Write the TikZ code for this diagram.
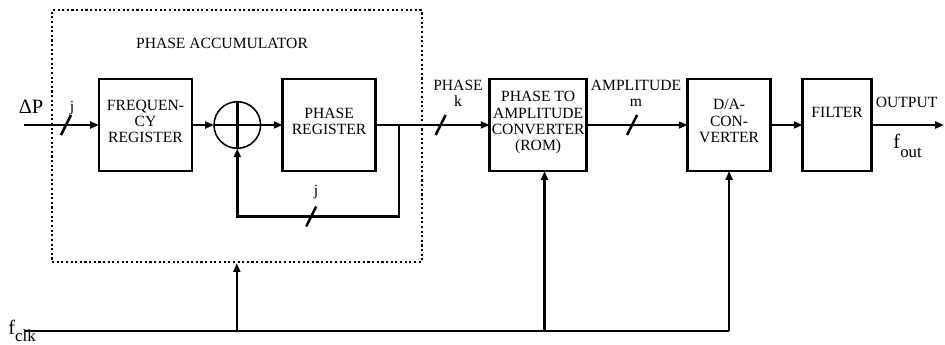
\documentclass[tikz,border=0pt]{standalone}
\usepackage{fontspec}
\setmainfont{Liberation Serif}
\usetikzlibrary{arrows.meta, positioning, calc}
\tikzset{
  blockbox/.style={rectangle, minimum height=2.3cm, text centered, align=center,
    draw, line width=1.8pt, inner sep=1pt, outer sep=0pt, text depth=0.2cm,
    font=\fontsize{11.1}{11.5}\selectfont},
  sumnode/.style={circle, draw, line width=1.1pt, minimum size=1.165cm,
    inner sep=0pt, outer sep=0pt},
  accbox/.style={rectangle, draw, line width=1.5pt, dash pattern=on 1.5pt off 1.8pt},
  wire/.style={line width=1.8pt},
  arr/.style={wire, -{Triangle[length=0.22cm, width=0.17cm]}},
  busmark/.style={line width=1.8pt},
  lbl/.style={font=\fontsize{11.1}{11.5}\selectfont, inner sep=0pt},
  biglbl/.style={font=\fontsize{14.5}{15}\selectfont, inner sep=0pt},
}

\begin{document}
\begin{tikzpicture}
  \useasboundingbox (0,0) rectangle (23.625,-8.6);

  \node (freq)   [blockbox, minimum width=2.325cm] at (3.6375,-3.125) {FREQUEN-\\CY\\REGISTER};
  \node (adder)  [sumnode,  right=0.55cm of freq]  {};
  \node (phase)  [blockbox, minimum width=2.325cm, right=0.55cm of adder] {PHASE\\REGISTER};
  \node (rom)    [blockbox, minimum width=2.425cm, right=2.85cm of phase] {PHASE TO\\AMPLITUDE\\CONVERTER\\(ROM)};
  \node (dac)    [blockbox, minimum width=2.075cm, right=2.525cm of rom] {D/A-\\CON-\\VERTER};
  \node (filter) [blockbox, minimum width=1.725cm, right=0.8cm of dac, text depth=0.65cm] {FILTER};
  \node (acc)    [accbox, minimum width=9.24cm, minimum height=6.3cm] at (5.92,-3.4) {};

  \coordinate (in)  at (0.6,-3.125);
  \coordinate (out) at (23.6,-3.125);
  \coordinate (tap) at (9.975,-3.125);
  \coordinate (fb)  at (9.975,-5.4125);
  \coordinate (clk) at (0.625,-8.275);

  % signal path
  \draw[arr]  (in) -- (freq);
  \draw[arr]  (freq) -- (adder);
  \draw[wire] (adder.west) -- (adder.east);
  \draw[wire] (adder.north) -- (adder.south);
  \draw[arr]  (adder) -- (phase);
  \draw[arr]  (phase) -- (rom);
  \draw[arr]  (rom) -- (dac);
  \draw[arr]  (dac) -- (filter);
  \draw[arr]  (filter) -- (out);
  \draw[arr]  (tap) -- (fb) -| (adder.south);

  % clock
  \draw[wire] (clk) -- (clk -| dac);
  \draw[arr]  (acc.south |- clk) -- (acc.south);
  \draw[arr]  ($(clk -| rom)+(0.16,0)$) -- ($(rom.south)+(0.16,0)$);
  \draw[arr]  (clk -| dac) -- (dac.south);

  % bus widths
  \draw[busmark] ($(in)!0.56!(freq.west)$) +(-0.125,-0.25) -- +(0.125,0.25);
  \draw[busmark] ($(adder |- fb)!0.457!(fb)$) +(-0.125,-0.25) -- +(0.125,0.25);
  \draw[busmark] ($(phase.east)!0.57!(rom.west)$) +(-0.125,-0.25) -- +(0.125,0.25);
  \draw[busmark] ($(rom.east)!0.45!(dac.west)$) +(-0.125,-0.25) -- +(0.125,0.25);

  \node (acclbl) [lbl, anchor=base] at (5.55,-1.2075) {PHASE ACCUMULATOR};
  \node (jin)    [lbl, anchor=base] at (1.8,-2.78) {j};
  \node (jfb)    [lbl, anchor=base] at (7.9,-4.88) {j};
  \node (phlbl)  [lbl, align=center] at (11.45,-2.335) {PHASE\\k};
  \node (amplbl) [lbl, align=center] at (15.9,-2.335) {AMPLITUDE\\m};
  \node (outlbl) [lbl, anchor=base] at (22.667,-2.6925) {OUTPUT};
  \node (dp)     [biglbl, anchor=base] at (0.775,-2.825) {ΔP};
  \node (fout)   [biglbl, anchor=base west] at (22.33,-3.7175) {f\raisebox{-0.23cm}{\fontsize{12}{12}\selectfont out}};
  \node (fclk)   [biglbl, anchor=base west] at (0.2,-8.36) {f\raisebox{-0.17cm}{\fontsize{12}{12}\selectfont clk}};
\end{tikzpicture}
\end{document}
